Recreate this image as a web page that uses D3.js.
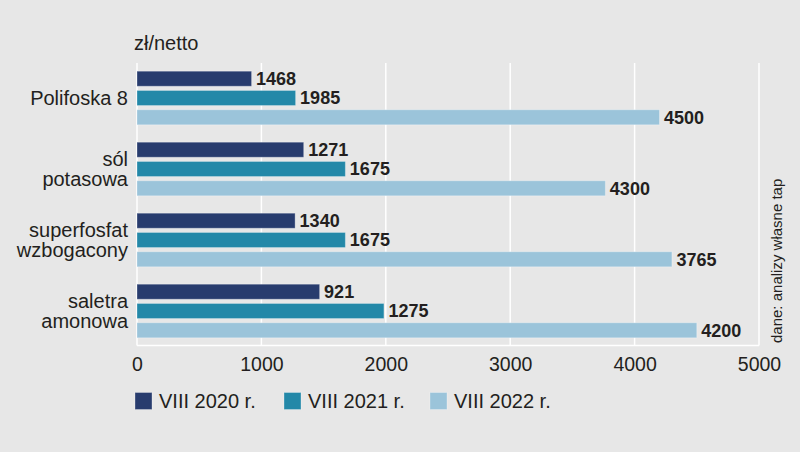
<!DOCTYPE html>
<html>
<head>
<meta charset="utf-8">
<script src="https://cdn.jsdelivr.net/npm/d3@7"></script>
<style>
  html, body { margin: 0; padding: 0; background: #e7e7e7; }
  svg { display: block; }
  text { font-family: "Liberation Sans", Arial, sans-serif; fill: #231f20; }
</style>
</head>
<body>
<svg id="chart" width="800" height="452"></svg>
<script>
// ---- data ----
const categories = ["Polifoska 8", "sól\npotasowa", "superfosfat\nwzbogacony", "saletra\namonowa"];
const seriesNames = ["VIII 2020 r.", "VIII 2021 r.", "VIII 2022 r."];
// bar lengths as drawn in the reference
const values2020 = [921, 1340, 1271, 1468];
const values2021 = [1275, 1675, 1675, 1985];
const values2022 = [4200, 3765, 4300, 4500];
// value labels as printed in the reference
const labels2020 = [1468, 1271, 1340, 921];
const labels2021 = [1985, 1675, 1675, 1275];
const labels2022 = [4500, 4300, 3765, 4200];
const xTicks = [0, 1000, 2000, 3000, 4000, 5000];
const unitLabel = "zł/netto";
const sourceLabel = "dane: analizy własne tap";

const colors = ["#283c6e", "#2388a8", "#9bc4da"];
const seriesValues = [values2020, values2021, values2022];
const seriesLabels = [labels2020, labels2021, labels2022];

const svg = d3.select("#chart");
svg.append("rect").attr("width", 800).attr("height", 452).attr("fill", "#e7e7e7");

const x = d3.scaleLinear().domain([0, 5000]).range([137, 759]);
const y = d3.scaleBand().domain(categories).range([62.5, 346.5]).paddingInner(0.245).paddingOuter(0.1225);
const ys = d3.scaleBand().domain(seriesNames).range([0, y.bandwidth()]).paddingInner(0.22).paddingOuter(0);

const plotTop = 63, plotBottom = 345.5;

// gridlines
svg.append("g").selectAll("line").data(xTicks).join("line")
  .attr("x1", d => x(d)).attr("x2", d => x(d))
  .attr("y1", plotTop).attr("y2", plotBottom)
  .attr("stroke", "#ffffff").attr("stroke-width", 1.5);
// baseline
svg.append("line").attr("x1", x(0)).attr("x2", x(5000))
  .attr("y1", plotBottom).attr("y2", plotBottom)
  .attr("stroke", "#ffffff").attr("stroke-width", 1.5);

// x axis labels
const xAxis = d3.axisBottom(x).tickValues(xTicks).tickSize(0).tickPadding(7).tickFormat(d3.format("d"));
const gx = svg.append("g").attr("transform", `translate(0,${plotBottom})`).call(xAxis);
gx.select(".domain").remove();
gx.selectAll("text").style("font-size", "19.5px").attr("fill", "#231f20").attr("dy", "0.95em")
  .style("font-family", '"Liberation Sans", Arial, sans-serif');

// bars
const rows = [];
categories.forEach((c, i) => {
  seriesNames.forEach((s, j) => {
    rows.push({ cat: c, ser: s, j, value: seriesValues[j][i], label: seriesLabels[j][i] });
  });
});

const g = svg.append("g");
g.selectAll("rect").data(rows).join("rect")
  .attr("x", x(0))
  .attr("y", d => y(d.cat) + ys(d.ser))
  .attr("width", d => x(d.value) - x(0))
  .attr("height", ys.bandwidth())
  .attr("fill", d => colors[d.j])
  .attr("stroke", "rgba(255,255,255,0.3)")
  .attr("stroke-width", 1);

g.selectAll("text.val").data(rows).join("text").attr("class", "val")
  .attr("x", d => x(d.value) + 4.5)
  .attr("y", d => y(d.cat) + ys(d.ser) + ys.bandwidth() / 2)
  .attr("dy", "0.35em")
  .style("font-size", "18px").style("font-weight", "bold")
  .text(d => d.label);

// category labels
categories.forEach(c => {
  const lines = c.split("\n");
  const cy = y(c) + y.bandwidth() / 2;
  const lh = 20.5;
  const t = svg.append("text").attr("text-anchor", "end").style("font-size", "20px");
  lines.forEach((ln, k) => {
    t.append("tspan").attr("x", 128)
      .attr("y", cy + (k - (lines.length - 1) / 2) * lh)
      .attr("dy", "0.36em").text(ln);
  });
});

// unit label
svg.append("text").attr("x", 134).attr("y", 43).attr("dy", "0.36em")
  .style("font-size", "20px").text(unitLabel);

// source label (rotated)
svg.append("text").attr("transform", "translate(782,343) rotate(-90)")
  .style("font-size", "15px").text(sourceLabel);

// legend
const legendX = [135, 284, 430];
const lg = svg.append("g");
seriesNames.forEach((s, j) => {
  lg.append("rect").attr("x", legendX[j]).attr("y", 392.5).attr("width", 17).attr("height", 17)
    .attr("fill", colors[j]).attr("stroke", "rgba(255,255,255,0.3)");
  lg.append("text").attr("x", legendX[j] + 24).attr("y", 401).attr("dy", "0.36em")
    .style("font-size", "20px").text(s);
});
</script>
</body>
</html>
